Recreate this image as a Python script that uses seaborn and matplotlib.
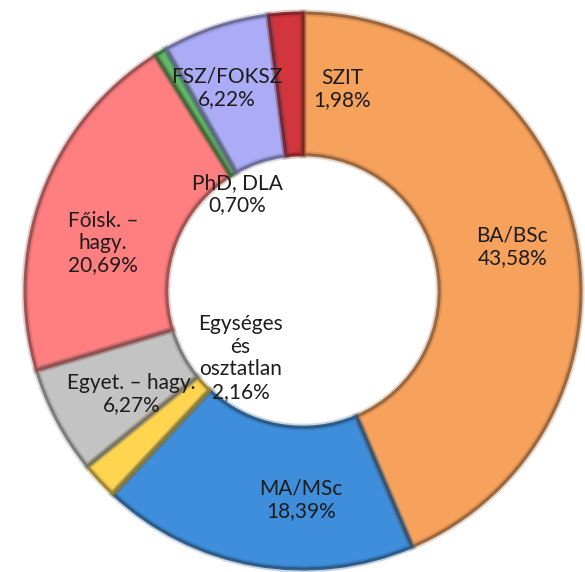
import numpy as np
import matplotlib
matplotlib.use("Agg")
import matplotlib.pyplot as plt
import matplotlib.colors as mcolors
import seaborn as sns

# adatok (óramutató járásával, 12 órától)
kategoriak = ["BA/BSc", "MA/MSc", "Egységes\nés\nosztatlan", "Egyet. – hagy.",
              "Főisk. –\nhagy.", "PhD, DLA", "FSZ/FOKSZ", "SZIT"]
aranyok = [43.58, 18.39, 2.16, 6.27, 20.69, 0.70, 6.22, 1.98]
szinek = ["#F7A25C", "#3F8EDB", "#FFD54F", "#C3C3C3",
          "#FF7E80", "#5DBB63", "#ABABF6", "#D3353D"]

# címkék helye: (szög fokban, sugár a külső sugár arányában)
cimke_hely = [(12, 0.77), (-90.5, 0.75), (227, 0.33), (211, 0.72),
              (166.5, 0.74), (124, 0.42), (110.5, 0.78), (79, 0.74)]

sns.set_theme(style="white")
plt.rcParams["font.family"] = ["Lato", "DejaVu Sans"]

W, H = 585, 572
fig = plt.figure(figsize=(W / 100, H / 100), dpi=100)
R = 278
cx, cy = 303, 291
ax = fig.add_axes([(cx - R) / W, (H - cy - R) / H, 2 * R / W, 2 * R / H])

sotet = [tuple(np.array(mcolors.to_rgb(c)) * 0.6) for c in szinek]

ax.pie(aranyok, colors=szinek, startangle=90, counterclock=False, radius=1.0,
       wedgeprops=dict(width=0.51, edgecolor="none"))
# sötétebb perem a domború hatáshoz
for lw, alfa in [(5, 0.25), (2.2, 0.9)]:
    wedges, _ = ax.pie(aranyok, colors=szinek, startangle=90,
                       counterclock=False, radius=1.0,
                       wedgeprops=dict(width=0.51, linewidth=lw))
    for w, s in zip(wedges, sotet):
        w.set_edgecolor(s + (alfa,))
        w.set_facecolor("none")

for nev, ertek, (szog, r) in zip(kategoriak, aranyok, cimke_hely):
    t = np.deg2rad(szog)
    felirat = nev + "\n" + f"{ertek:.2f}%".replace(".", ",")
    ax.text(r * np.cos(t), r * np.sin(t), felirat, ha="center", va="center",
            fontsize=15, color="#1c1c1c", linespacing=1.15)

ax.set_xlim(-1, 1)
ax.set_ylim(-1, 1)
ax.set_aspect("equal")
ax.axis("off")

fig.savefig("out.png", dpi=100)
